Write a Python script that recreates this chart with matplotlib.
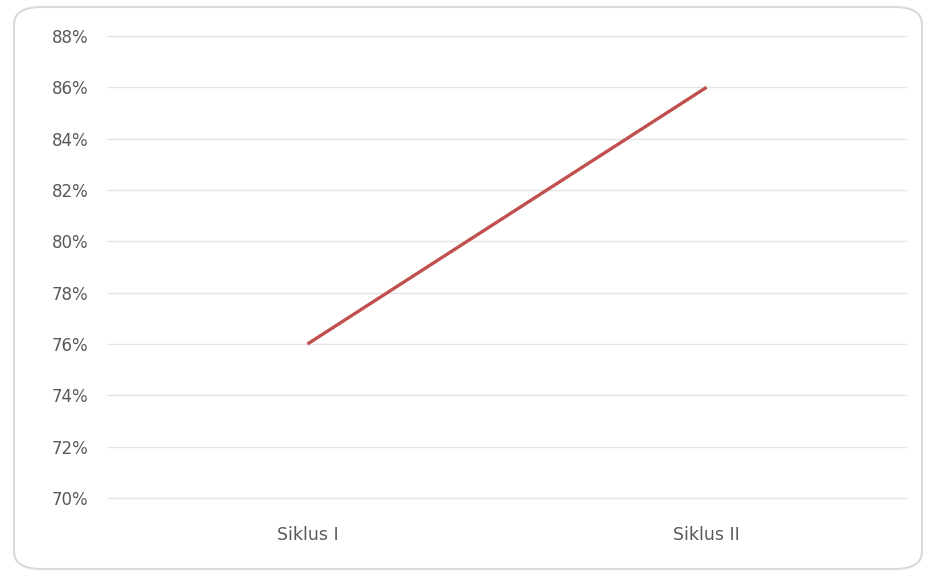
import matplotlib.pyplot as plt
from matplotlib.patches import FancyBboxPatch
from matplotlib.ticker import FuncFormatter

# 資料
categories = ['Siklus I', 'Siklus II']
values = [76, 86]
y_ticks = [70, 72, 74, 76, 78, 80, 82, 84, 86, 88]

plt.rcParams['font.family'] = ['DejaVu Sans']

fig = plt.figure(figsize=(9.26, 5.75), dpi=100)
fig.patch.set_facecolor('white')

# 外框（圓角）
border = FancyBboxPatch((14 / 926, 6 / 575), 908 / 926, 562 / 575,
                        boxstyle="round,pad=0,rounding_size=0.03",
                        transform=fig.transFigure, facecolor='none',
                        edgecolor='#d9d9d9', linewidth=1.5, zorder=-1)
fig.patches.append(border)

ax = fig.add_axes([108 / 926, 1 - 498 / 575, 798 / 926, (498 - 36) / 575])
ax.set_facecolor('none')

x = list(range(len(categories)))
ax.plot(x, values, color='#c0504d', linewidth=2.4, solid_capstyle='butt')

ax.set_xlim(-0.5, len(categories) - 0.5)
ax.set_ylim(70, 88)
ax.set_yticks(y_ticks)
ax.yaxis.set_major_formatter(FuncFormatter(lambda v, p: f"{v:.0f}%"))
ax.set_xticks(x)
ax.set_xticklabels(categories)

ax.grid(axis='y', color='#e3e3e3', linewidth=1)
for gl in ax.get_ygridlines():
    gl.set_clip_on(False)
ax.set_axisbelow(True)
for s in ax.spines.values():
    s.set_visible(False)
ax.tick_params(axis='both', length=0, colors='#595959')
ax.tick_params(axis='y', pad=14, labelsize=12)
ax.tick_params(axis='x', pad=20, labelsize=12.5)

plt.savefig('out.png', dpi=100)
plt.close()
